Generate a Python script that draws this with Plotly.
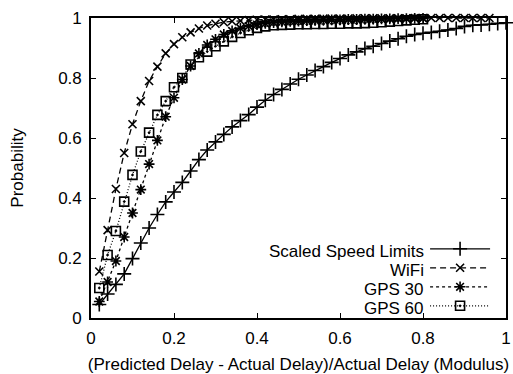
import plotly.graph_objects as go

# ---- data ----
step = 0.02
speed_limits = [0.045, 0.08, 0.112, 0.147, 0.198, 0.25, 0.30, 0.345, 0.387, 0.42,
                0.452, 0.49, 0.528, 0.56, 0.587, 0.612, 0.637, 0.658, 0.678, 0.703,
                0.726, 0.745, 0.762, 0.78, 0.796, 0.81, 0.825, 0.838, 0.852, 0.865,
                0.877, 0.887, 0.898, 0.906, 0.915, 0.923, 0.931, 0.939, 0.945, 0.949,
                0.952, 0.956, 0.96, 0.965, 0.972, 0.976, 0.977, 0.979, 0.982, 0.984]
wifi = [0.155, 0.293, 0.43, 0.55, 0.646, 0.723, 0.79, 0.838, 0.882, 0.913,
        0.936, 0.952, 0.965, 0.975, 0.981, 0.986, 0.989, 0.991, 0.993, 0.994,
        0.995, 0.995, 0.996, 0.996, 0.997, 0.997, 0.997, 0.998, 0.998, 0.998,
        0.998, 0.999, 0.999, 0.999, 0.999, 0.999, 0.999, 0.999, 1.0, 1.0,
        1.0, 1.0, 1.0, 1.0, 1.0, 1.0, 1.0, 1.0]
gps30 = [0.055, 0.12, 0.19, 0.27, 0.35, 0.428, 0.513, 0.592, 0.671, 0.734,
         0.795, 0.84, 0.882, 0.91, 0.929, 0.945, 0.957, 0.966, 0.973, 0.978,
         0.982, 0.985, 0.987, 0.989, 0.99, 0.991, 0.992, 0.993, 0.994, 0.994,
         0.995, 0.995, 0.996, 0.996, 0.997, 0.997, 0.998, 0.998, 0.999, 0.999]
gps60 = [0.10, 0.21, 0.29, 0.388, 0.477, 0.555, 0.618, 0.677, 0.723, 0.769,
         0.80, 0.845, 0.869, 0.888, 0.906, 0.922, 0.937, 0.95, 0.959, 0.967,
         0.972, 0.976, 0.977, 0.978, 0.979, 0.979, 0.98, 0.98, 0.981, 0.981,
         0.982, 0.982, 0.983, 0.984, 0.986, 0.988, 0.99, 0.992, 0.994, 0.996]
series_names = ["Scaled Speed Limits", "WiFi", "GPS 30", "GPS 60"]
series_values = [speed_limits, wifi, gps30, gps60]
x_ticks = [0, 0.2, 0.4, 0.6, 0.8, 1]
y_ticks = [0, 0.2, 0.4, 0.6, 0.8, 1]
x_title = "(Predicted Delay - Actual Delay)/Actual Delay (Modulus)"
y_title = "Probability"

styles = [
    dict(symbol="cross-thin", size=10, dash="solid"),
    dict(symbol="x-thin", size=8, dash="6px,4px"),
    dict(symbol="asterisk", size=9, dash="3px,3px"),
    dict(symbol="square-open-dot", size=9, dash="1px,2px"),
]

FONT = "Liberation Sans, Arial, Helvetica, sans-serif"
FS = 17

fig = go.Figure()
for name, vals, st in zip(series_names, series_values, styles):
    xs = [round(step * (i + 1), 2) for i in range(len(vals))]
    fig.add_trace(go.Scatter(
        x=xs, y=vals, mode="lines+markers", name=" ",
        line=dict(color="black", width=1.3, dash=st["dash"]),
        marker=dict(symbol=st["symbol"], size=st["size"], color="black",
                    line=dict(color="black", width=1.6)),
        cliponaxis=False,
    ))

# legend labels as right-aligned text (rows spaced like the legend entries)
label_y = [0.222, 0.159, 0.096, 0.033]
for name, ly in zip(series_names, label_y):
    fig.add_annotation(text=name, xref="paper", yref="paper", x=0.808, y=ly,
                       xanchor="right", yanchor="middle", showarrow=False,
                       font=dict(family=FONT, size=FS, color="black"))

axis_common = dict(
    showline=True, linecolor="black", linewidth=1.6, mirror="allticks",
    ticks="inside", ticklen=5, tickwidth=1.3, tickcolor="black",
    showgrid=False, zeroline=False, automargin=False,
    tickfont=dict(family=FONT, size=FS, color="black"),
)
fig.update_xaxes(range=[0, 1], tickvals=x_ticks, ticktext=[f"{v:g}" for v in x_ticks],
                 ticklabelstandoff=4,
                 title=dict(text=x_title, font=dict(family=FONT, size=FS, color="black"), standoff=14),
                 **axis_common)
fig.update_yaxes(range=[0, 1], tickvals=y_ticks, ticktext=[f"{v:g}" for v in y_ticks],
                 ticklabelstandoff=4,
                 title=dict(text=y_title, font=dict(family=FONT, size=FS, color="black"), standoff=30),
                 **axis_common)

fig.update_layout(
    width=513, height=374,
    margin=dict(l=91, r=7, t=18, b=56),
    paper_bgcolor="white", plot_bgcolor="white",
    showlegend=True,
    legend=dict(x=0.805, y=0.279, xanchor="left", yanchor="top",
                bgcolor="rgba(0,0,0,0)", font=dict(family=FONT, size=12),
                itemwidth=60, tracegroupgap=0),
)

fig.write_html("out.html")
